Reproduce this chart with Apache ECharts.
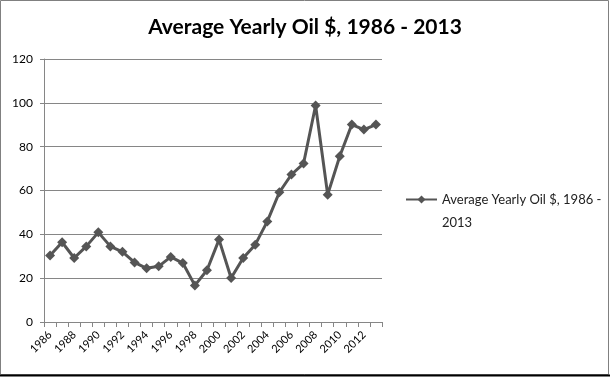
<!DOCTYPE html>
<html>
<head>
<meta charset="utf-8">
<script src="https://cdn.jsdelivr.net/npm/echarts@6/dist/echarts.min.js"></script>
<style>
  html, body { margin: 0; padding: 0; background: #fff; }
  #chart { width: 610px; height: 377px; }
</style>
</head>
<body>
<div id="chart"></div>
<script>
var myChart = echarts.init(document.getElementById("chart"));

var seriesName = "Average Yearly Oil $, 1986 - 2013";

var years = [];
for (var y = 1986; y <= 2013; y++) {
    years.push(String(y));
}

// average yearly price
var oilPrice = [30.3, 36.4, 29.2, 34.5, 40.9, 34.5, 32.0, 27.2, 24.5, 25.4,
                29.7, 26.9, 16.7, 23.6, 37.6, 20.1, 29.2, 35.3, 45.9, 59.2,
                67.3, 72.3, 98.8, 58.1, 75.6, 90.1, 87.8, 90.1];

var font = "Lato, 'Open Sans', sans-serif";

myChart.setOption({
    animation: false,
    title: {
        text: seriesName,
        left: 'center',
        top: 12,
        textStyle: {
            fontFamily: font,
            fontSize: 21,
            fontWeight: 'bold',
            color: '#000'
        }
    },
    legend: {
        data: [seriesName],
        orient: 'vertical',
        left: 400,
        top: 160,
        itemWidth: 31,
        itemHeight: 10,
        // empty first line keeps the icon level with the first text line
        formatter: function () {
            return ' \nAverage Yearly Oil $, 1986 -\n2013';
        },
        textStyle: {
            fontFamily: font,
            fontSize: 13,
            color: '#222',
            lineHeight: 23
        }
    },
    grid: {
        left: 44,
        right: 228,
        top: 59,
        bottom: 55
    },
    xAxis: {
        type: 'category',
        data: years,
        boundaryGap: true,
        axisLine: { lineStyle: { color: '#868686', width: 1 } },
        axisTick: { show: true, length: 5, interval: 0, lineStyle: { color: '#868686' } },
        axisLabel: {
            interval: 1,
            rotate: 45,
            margin: 11,
            fontFamily: font,
            fontSize: 11,
            color: '#000'
        }
    },
    yAxis: {
        type: 'value',
        min: 0,
        max: 120,
        interval: 20,
        axisLine: { show: true, lineStyle: { color: '#868686', width: 1 } },
        axisTick: { show: true, length: 4, lineStyle: { color: '#868686' } },
        splitLine: { show: true, lineStyle: { color: '#868686', width: 1 } },
        axisLabel: {
            margin: 11,
            fontFamily: font,
            fontSize: 12,
            color: '#000'
        }
    },
    graphic: [
        {
            type: 'rect',
            shape: { x: 0.5, y: 0.5, width: 608, height: 374 },
            style: { fill: 'none', stroke: '#808080', lineWidth: 1 }
        },
        {
            type: 'line',
            shape: { x1: 0, y1: 375.5, x2: 610, y2: 375.5 },
            style: { stroke: '#000', lineWidth: 2 }
        }
    ],
    series: [
        {
            name: seriesName,
            type: 'line',
            data: oilPrice,
            symbol: 'diamond',
            symbolSize: 10,
            showAllSymbol: true,
            lineStyle: { color: '#555', width: 3 },
            itemStyle: { color: '#555' }
        }
    ]
});
</script>
</body>
</html>
